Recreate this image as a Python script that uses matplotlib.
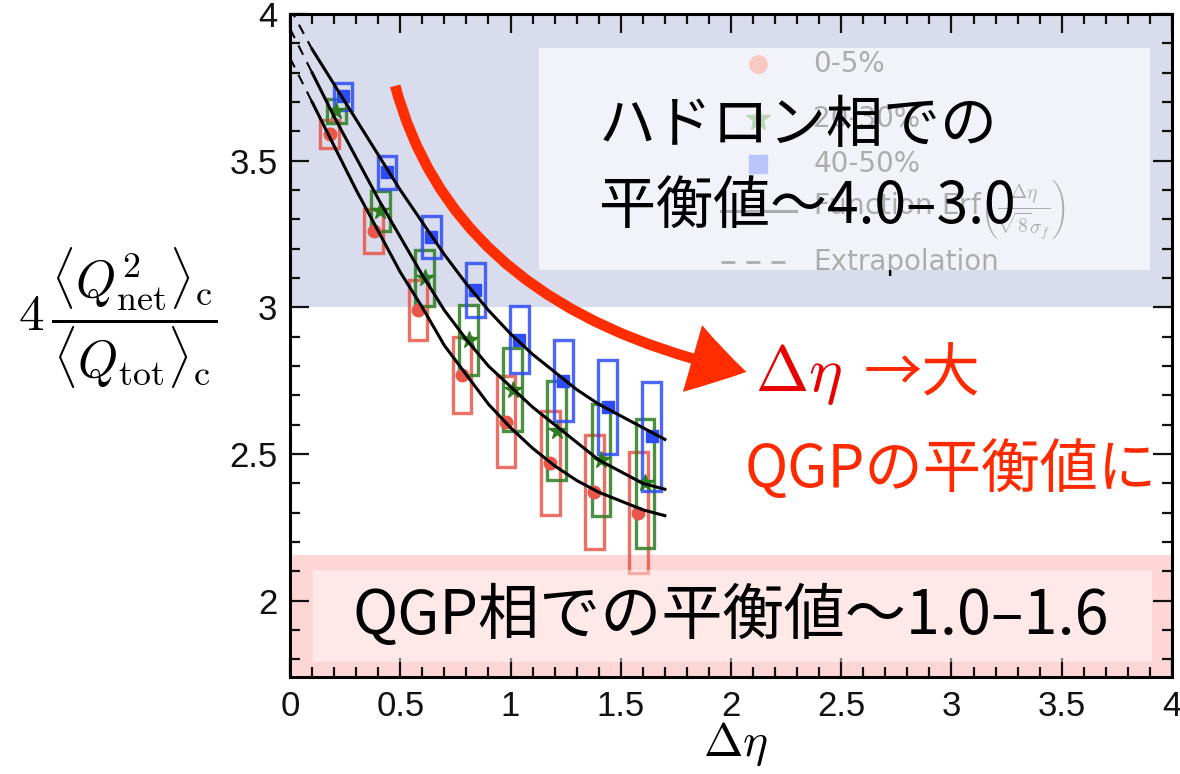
import matplotlib
matplotlib.use("Agg")
import matplotlib.pyplot as plt
from matplotlib.patches import Rectangle, FancyArrowPatch, ArrowStyle
from matplotlib.ticker import MultipleLocator, FuncFormatter

# bin centres in delta-eta
deta = [0.2, 0.4, 0.6, 0.8, 1.0, 1.2, 1.4, 1.6]

# 0-5% centrality: value and systematic half-height
red_val = [3.59, 3.26, 2.99, 2.77, 2.61, 2.47, 2.37, 2.30]
red_sys = [0.048, 0.075, 0.102, 0.129, 0.155, 0.177, 0.194, 0.206]
# 20-30%
green_val = [3.67, 3.33, 3.10, 2.89, 2.72, 2.58, 2.48, 2.40]
green_sys = [0.041, 0.068, 0.097, 0.119, 0.141, 0.170, 0.190, 0.219]
# 40-50%
blue_val = [3.72, 3.46, 3.24, 3.06, 2.89, 2.75, 2.66, 2.56]
blue_sys = [0.046, 0.056, 0.071, 0.092, 0.114, 0.138, 0.160, 0.187]

# Erf fit curves
fit_x = [0.1, 0.2, 0.3, 0.4, 0.5, 0.6, 0.7, 0.8, 0.9, 1.0,
         1.1, 1.2, 1.3, 1.4, 1.5, 1.6, 1.7]
fit_blue = [3.88, 3.76, 3.64, 3.52, 3.40, 3.29, 3.18, 3.08, 2.99, 2.91,
            2.84, 2.78, 2.72, 2.67, 2.63, 2.59, 2.55]
fit_green = [3.80, 3.65, 3.51, 3.37, 3.24, 3.11, 2.99, 2.89, 2.80, 2.73,
             2.66, 2.60, 2.54, 2.48, 2.44, 2.40, 2.38]
fit_red = [3.70, 3.55, 3.40, 3.26, 3.12, 3.00, 2.87, 2.77, 2.67, 2.59,
           2.52, 2.46, 2.41, 2.37, 2.34, 2.31, 2.29]

# extrapolation to zero
extrap_x = [0.0, 0.1]
extrap_blue = [4.02, 3.88]
extrap_green = [3.95, 3.80]
extrap_red = [3.85, 3.70]

labels = ["0-5%", "20-30%", "40-50%"]
fit_label = r"Function Erf$\left(\frac{\Delta\eta}{\sqrt{8}\sigma_f}\right)$"
extrap_label = "Extrapolation"

plt.rcParams['mathtext.fontset'] = 'cm'
jp = ['Noto Sans CJK JP', 'DejaVu Sans']

fig = plt.figure(figsize=(11.8, 7.74), dpi=100)
ax = fig.add_axes([0.2458, 0.1253, 0.7474, 0.8566])
ax.set_xlim(0, 4)
ax.set_ylim(1.74, 4.0)

# coloured regions
ax.axhspan(3.0, 4.0, color='#d9dcec', zorder=0, lw=0)
ax.axhspan(1.74, 2.155, color='#ffd6d6', zorder=0, lw=0)

series = [
    (red_val, red_sys, -0.02, '#e8574a', 'o', 9),
    (green_val, green_sys, 0.01, '#2f7d22', '*', 13),
    (blue_val, blue_sys, 0.04, '#2e4cf5', 's', 9),
]
# faint legend rows (sit under the white box)
leg_x, leg_tx = 2.123, 2.373
leg_rows = [3.83, 3.643, 3.49, 3.33, 3.153]

for i, ((val, sys_, off, col, mk, ms), lab) in enumerate(zip(series, labels)):
    xs = [d + off for d in deta]
    lows = [v - s for v, s in zip(val, sys_)]
    heights = [2 * s for s in sys_]
    ax.bar(xs, heights, bottom=lows, width=0.085, fill=False,
           edgecolor=col, linewidth=2.4, alpha=0.85, zorder=2)
    ax.plot(xs, val, mk, color=col, ms=ms, mec=col, zorder=3)
    ax.plot([leg_x], [leg_rows[i]], mk, color=col, ms=ms * 1.4, zorder=5)
    ax.text(leg_tx, leg_rows[i], lab, fontsize=20, va='center', zorder=5)

for fy in (fit_blue, fit_green, fit_red):
    ax.plot(fit_x, fy, '-', color='k', lw=2.2, zorder=4)
for ey in (extrap_blue, extrap_green, extrap_red):
    ax.plot(extrap_x, ey, '--', color='k', lw=1.5, dashes=(5, 4), zorder=4)

ax.plot([1.955, 2.295], [leg_rows[3]] * 2, '-', color='k', lw=2.2, zorder=5)
ax.text(leg_tx, leg_rows[3], fit_label, fontsize=20, va='center', zorder=5)
ax.plot([1.955, 2.295], [leg_rows[4]] * 2, '--', color='k', lw=2,
        dashes=(5, 4), zorder=5)
ax.text(leg_tx, leg_rows[4], extrap_label, fontsize=20, va='center', zorder=5)

# translucent boxes over the legend / bottom region
ax.add_patch(Rectangle((1.127, 3.126), 2.773, 0.758, facecolor='white',
                       alpha=0.68, lw=0, zorder=6))
ax.add_patch(Rectangle((0.105, 1.79), 3.805, 0.315, facecolor='white',
                       alpha=0.45, lw=0, zorder=6))

ax.text(1.40, 3.62, "ハドロン相での", family=jp, fontsize=41,
        va='center', ha='left', zorder=7)
ax.text(1.40, 3.345, "平衡値〜4.0–3.0", family=jp, fontsize=41,
        va='center', ha='left', zorder=7)
ax.text(2.0, 1.946, "QGP相での平衡値〜1.0–1.6", family=jp, fontsize=44,
        va='center', ha='center', zorder=7)

ax.text(2.11, 2.77, r"$\Delta\eta$", color='#e80000', fontsize=46,
        va='center', ha='left', zorder=7)
ax.text(2.60, 2.77, "→大", family=jp, color='#ff2a00', fontsize=42,
        va='center', ha='left', zorder=7)
ax.text(2.06, 2.445, "QGPの平衡値に", family=jp, color='#ff2a00',
        fontsize=42, va='center', ha='left', zorder=7)

arrow = FancyArrowPatch((0.477, 3.755), (2.07, 2.78),
                        connectionstyle="angle3,angleA=-75,angleB=-12",
                        arrowstyle=ArrowStyle.Simple(head_length=1.0,
                                                     head_width=1.25,
                                                     tail_width=0.19),
                        mutation_scale=40, color='#ff2d00', lw=0,
                        shrinkA=0, shrinkB=0, zorder=7)
ax.add_patch(arrow)

# axes style
for sp in ax.spines.values():
    sp.set_linewidth(2.2)
ax.xaxis.set_major_locator(MultipleLocator(0.5))
ax.xaxis.set_minor_locator(MultipleLocator(0.1))
ax.yaxis.set_major_locator(MultipleLocator(0.5))
ax.yaxis.set_minor_locator(MultipleLocator(0.1))
fmt = FuncFormatter(lambda v, p: "%g" % v)
ax.xaxis.set_major_formatter(fmt)
ax.yaxis.set_major_formatter(fmt)
ax.tick_params(which='both', direction='in', top=True, right=True,
               width=1.6, colors='#111111')
ax.tick_params(which='major', length=14, labelsize=25, pad=9)
ax.tick_params(which='minor', length=7)
for t in ax.get_xticklabels() + ax.get_yticklabels():
    t.set_family('Liberation Sans')
    t.set_fontweight('medium')

fig.text(735 / 1180, 1 - 744 / 774, r"$\Delta\eta$", fontsize=34,
         ha='center', va='center')
fig.text(118 / 1180, 1 - 318 / 774,
         r"$4\,\dfrac{\langle Q_{\rm net}^2\rangle_{\rm c}}{\langle Q_{\rm tot}\rangle_{\rm c}}$",
         fontsize=37, ha='center', va='center')

fig.savefig("out.png", dpi=100)
